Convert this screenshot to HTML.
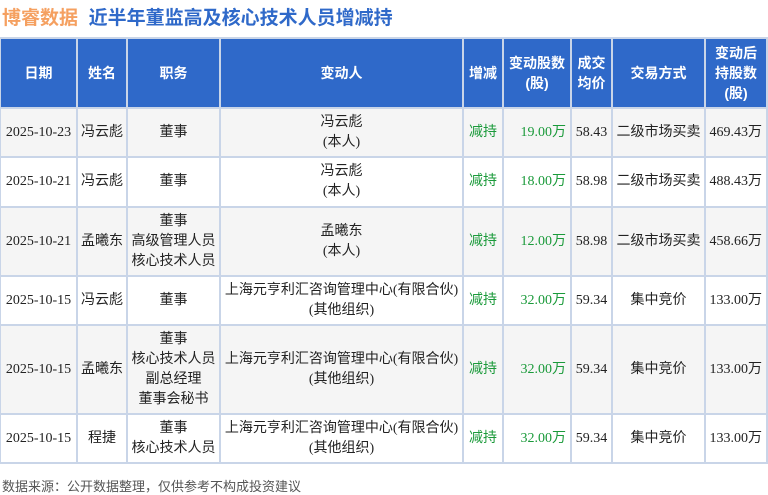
<!DOCTYPE html>
<html><head><meta charset="utf-8"><style>
body{margin:0;width:768px;height:494px;background:#fff;font-family:"Liberation Sans","Noto Sans CJK SC",sans-serif;position:relative;overflow:hidden}
.t{position:absolute;top:3px;left:2px;font-size:19px;font-weight:bold;white-space:nowrap}
.c{position:absolute;display:flex;align-items:center;justify-content:center;text-align:center;font-family:"Liberation Serif","Noto Sans CJK SC",serif;font-size:14px;color:#222;line-height:20px;box-sizing:border-box}
.h{background:#2f69c9;color:#fff;font-weight:bold;font-size:14px;line-height:20px;font-family:"Liberation Sans","Noto Sans CJK SC",sans-serif}
.g{color:#1a9a3a}
.r{justify-content:flex-end;padding-right:4px}
.f{position:absolute;left:2px;top:476px;font-size:13px;color:#555}
</style></head><body>
<div class="t"><span style="color:#f5a060">博睿数据</span> <span style="color:#2f69c9">&nbsp;近半年董监高及核心技术人员增减持</span></div>
<div style="position:absolute;left:0;top:37px;width:768px;height:427px;background:#c9d5e8"></div>
<div id="tb"></div>
<div class="f">数据来源：公开数据整理，仅供参考不构成投资建议</div>
<script>
var cols=[[1,76],[78,126],[128,219],[221,462],[464,502],[504,570],[572,611],[613,704],[706,766]];
var rows=[[39,107],[109,156],[158,206],[208,275],[277,324],[326,413],[415,462]];
var hd=["日期","姓名","职务","变动人","增减","变动股数<br>(股)","成交<br>均价","交易方式","变动后<br>持股数<br>(股)"];
var d=[
["2025-10-23","冯云彪","董事","冯云彪<br>(本人)","减持","19.00万","58.43","二级市场买卖","469.43万"],
["2025-10-21","冯云彪","董事","冯云彪<br>(本人)","减持","18.00万","58.98","二级市场买卖","488.43万"],
["2025-10-21","孟曦东","董事<br>高级管理人员<br>核心技术人员","孟曦东<br>(本人)","减持","12.00万","58.98","二级市场买卖","458.66万"],
["2025-10-15","冯云彪","董事","上海元亨利汇咨询管理中心(有限合伙)<br>(其他组织)","减持","32.00万","59.34","集中竞价","133.00万"],
["2025-10-15","孟曦东","董事<br>核心技术人员<br>副总经理<br>董事会秘书","上海元亨利汇咨询管理中心(有限合伙)<br>(其他组织)","减持","32.00万","59.34","集中竞价","133.00万"],
["2025-10-15","程捷","董事<br>核心技术人员","上海元亨利汇咨询管理中心(有限合伙)<br>(其他组织)","减持","32.00万","59.34","集中竞价","133.00万"]];
var h="";
for(var r=0;r<7;r++){var y=rows[r][0],hh=rows[r][1]-rows[r][0];
for(var c=0;c<9;c++){var x=cols[c][0],w=cols[c][1]-cols[c][0];
if(r==0){h+='<div class="c h" style="left:'+x+'px;top:'+y+'px;width:'+w+'px;height:'+hh+'px">'+hd[c]+'</div>';}
else{var bg=(r%2==1)?"#f5f5f5":"#fff";var cl="c"+((c==4||c==5)?" g":"")+((c==5||c==8)?" r":"");
h+='<div class="'+cl+'" style="background:'+bg+';left:'+x+'px;top:'+y+'px;width:'+w+'px;height:'+hh+'px">'+d[r-1][c]+'</div>';}}}
document.getElementById("tb").innerHTML=h;
</script>
</body></html>
